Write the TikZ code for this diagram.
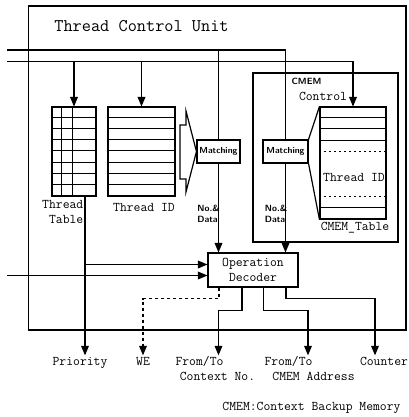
\documentclass[tikz,border=0pt]{standalone}
\usetikzlibrary{arrows}
\tikzstyle{unitbox} = [rectangle, draw=black, line width=1.2pt, inner sep=0pt]
\tikzstyle{tblbox} = [rectangle, draw=black, line width=1.1pt, inner sep=0pt, minimum height=89pt]
\tikzstyle{matchbox} = [rectangle, draw=black, line width=1.1pt, minimum height=23pt, inner sep=0pt, font=\sffamily\bfseries\fontsize{8.8}{9}\selectfont]
\tikzstyle{txt} = [inner sep=0pt, font=\ttfamily\fontsize{13.3}{15}\selectfont]
\tikzstyle{outlabel} = [txt, inner sep=1pt, text height=8.5pt, text depth=2.5pt]
\tikzstyle{smalllabel} = [inner sep=0pt, align=left, font=\sffamily\bfseries\fontsize{9}{11}\selectfont]
\tikzstyle{wire} = [line width=1.2pt]
\tikzstyle{arrow} = [wire, ->, >=triangle 45]
\tikzstyle{dasharrow} = [arrow, dash pattern=on 3.5pt off 2.5pt]

\begin{document}
\begin{tikzpicture}[x=1pt, y=-1pt]
      \useasboundingbox (0,0) rectangle (408,417);

      \node (tcu) [unitbox, minimum width=377.5pt, minimum height=324pt] at (217.25,168) {};
      \node (title) [txt, font=\ttfamily\fontsize{17.8}{20}\selectfont] at (141.5,26) {Thread Control Unit};

      \node (cmemctl) [unitbox, minimum width=145pt, minimum height=169pt] at (325.5,157.5) {};
      \node (cmem) [smalllabel] at (306.5,81) {CMEM};
      \node (control) [txt] at (323,96) {Control};

      \node (ttable) [tblbox, minimum width=44pt] at (74,151.5) {};
      \node (tid) [tblbox, minimum width=67pt] at (141.5,151.5) {};
      \node (ctable) [tblbox, minimum width=66pt, minimum height=112pt] at (353,163) {};
      \node (match1) [matchbox, minimum width=43pt] at (218.5,151.5) {Matching};
      \node (match2) [matchbox, minimum width=45pt] at (285.5,151.5) {Matching};
      \node (opdec) [txt, rectangle, draw=black, line width=1.2pt, minimum width=90pt, minimum height=34pt, align=center] at (253,270) {Operation\\Decoder};

      % table rows
      \foreach \k in {1,...,7} {
        \draw [line width=1pt] ([yshift=-\k*11.125pt]ttable.north west) -- ([yshift=-\k*11.125pt]ttable.north east);
        \draw [line width=1pt] ([yshift=-\k*11.125pt]tid.north west) -- ([yshift=-\k*11.125pt]tid.north east);
      }
      \draw [line width=1pt] ([xshift=10pt]ttable.north west) -- ([xshift=10pt]ttable.south west);
      \draw [line width=1pt] ([xshift=21pt]ttable.north west) -- ([xshift=21pt]ttable.south west);
      \foreach \k in {11,22,34,101}
        \draw [line width=1pt] ([yshift=-\k pt]ctable.north west) -- ([yshift=-\k pt]ctable.north east);
      \foreach \k in {45,90}
        \draw [dash pattern=on 1.5pt off 3.5pt] ([yshift=-\k pt]ctable.north west) -- ([yshift=-\k pt]ctable.north east);

      \node (ttlabel) [txt, align=right, anchor=east] at (83.5,212) {Thread\\Table};
      \node (tidlabel) [txt] at (144,207) {Thread ID};
      \node (cidlabel) [txt] at (354,177) {Thread ID};
      \node (ctlabel) [txt] at (355,228) {CMEM\_Table};
      \node (data1) [smalllabel, anchor=east] at (220,213.5) {No.\&\\Data};
      \node (data2) [smalllabel, anchor=east] at (287.5,213.5) {No.\&\\Data};

      \node (priority) [outlabel] at (80,362) {Priority};
      \node (we) [outlabel] at (143,362) {WE};
      \node (ctx1) [outlabel] at (199.5,362) {From/To};
      \node (ctx2) [outlabel, below of=ctx1, node distance=15pt, xshift=18pt] {Context No.};
      \node (addr1) [outlabel] at (288.5,362) {From/To};
      \node (addr2) [outlabel, below of=addr1, node distance=15pt, xshift=25pt] {CMEM Address};
      \node (counter) [outlabel] at (384,362) {Counter};
      \node (note) [outlabel] at (311.5,407) {CMEM:Context Backup Memory};

      % hollow arrow and funnel
      \draw [wire] (180,125) -- (186,125) -- (186,111) -- (match1.west) -- (186,192) -- (186,179) -- (180,179) -- cycle;
      \draw [wire] (match2.north east) -- (ctable.north west);
      \draw [wire] (match2.south east) -- (ctable.south west);

      % Arrows
      \coordinate (bus1) at (7,50);
      \coordinate (bus2) at (7,61.5);
      \coordinate (pri) at ([xshift=11pt]ttable.south);
      \coordinate (dec1) at ([yshift=5.5pt]opdec.west);
      \coordinate (dec2) at ([yshift=-5.5pt]opdec.west);
      \draw [wire] (bus1) -| (match2.north);
      \draw [wire] (bus1 -| match1) -- (match1.north);
      \draw [arrow] (bus2) -| (ctable.north);
      \draw [arrow] (bus2 -| ttable) -- (ttable.north);
      \draw [arrow] (bus2 -| tid) -- (tid.north);
      \draw [arrow] (match1.south) -- (match1 |- opdec.north);
      \draw [arrow] (match2.south) -- (match2 |- opdec.north);
      \draw [arrow] (pri) -- (pri |- priority.north);
      \draw [arrow] (pri |- dec1) -- (dec1);
      \draw [arrow] (bus1 |- dec2) -- (dec2);
      \draw [dasharrow] ([xshift=-34pt]opdec.south) -- ++(0,11) -| (we.north);
      \draw [arrow] ([xshift=-11pt]opdec.south) -- ++(0,22.5) -| ([xshift=19pt]ctx1.north);
      \draw [arrow] ([xshift=10.5pt]opdec.south) -- ++(0,23) -| ([xshift=19.5pt]addr1.north);
      \draw [arrow] ([xshift=33pt]opdec.south) -- ++(0,11) -| ([xshift=-9pt]counter.north);

\end{tikzpicture}
\end{document}
